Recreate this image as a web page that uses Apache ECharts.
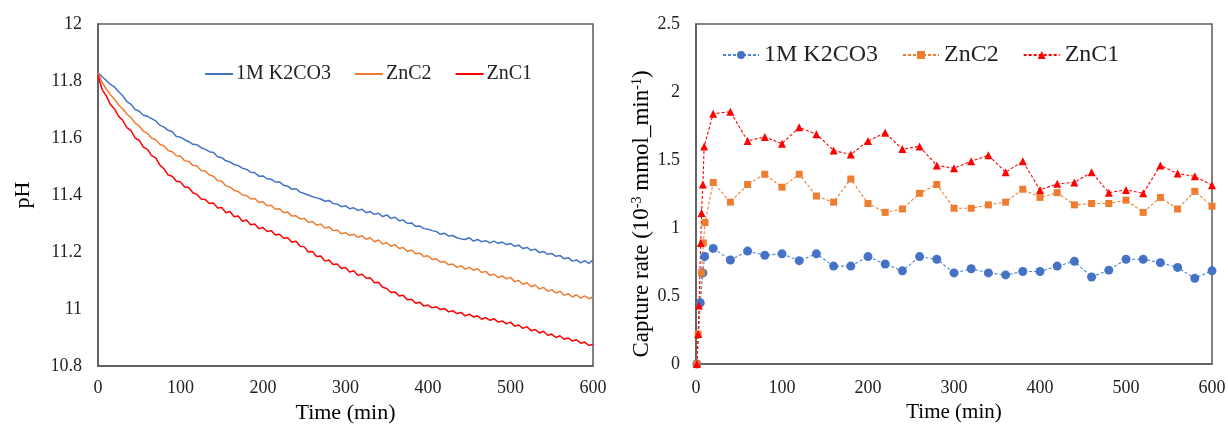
<!DOCTYPE html>
<html>
<head>
<meta charset="utf-8">
<script src="https://cdn.jsdelivr.net/npm/echarts@6/dist/echarts.min.js"></script>
<style>
  html, body { margin: 0; padding: 0; background: #fff; }
  #chart { width: 1228px; height: 425px; }
</style>
</head>
<body>
<div id="chart"></div>
<script>
// pH readings, one value every 5 min (0..600)
const phStep = 5;
const phK2CO3 = [
  11.830, 11.815, 11.802, 11.788, 11.779, 11.762, 11.748, 11.728, 11.718, 11.700,
  11.694, 11.680, 11.676, 11.668, 11.660, 11.645, 11.638, 11.627, 11.622, 11.605,
  11.603, 11.594, 11.587, 11.578, 11.576, 11.566, 11.560, 11.552, 11.549, 11.534,
  11.531, 11.520, 11.516, 11.507, 11.503, 11.494, 11.490, 11.480, 11.478, 11.466,
  11.467, 11.457, 11.455, 11.446, 11.446, 11.434, 11.431, 11.420, 11.422, 11.410,
  11.405, 11.400, 11.394, 11.390, 11.386, 11.378, 11.381, 11.370, 11.368, 11.359,
  11.362, 11.352, 11.355, 11.346, 11.350, 11.338, 11.342, 11.332, 11.336, 11.324,
  11.330, 11.318, 11.322, 11.310, 11.312, 11.300, 11.302, 11.290, 11.291, 11.282,
  11.280, 11.275, 11.272, 11.262, 11.266, 11.256, 11.258, 11.250, 11.246, 11.244,
  11.250, 11.238, 11.244, 11.236, 11.240, 11.232, 11.238, 11.230, 11.235, 11.226,
  11.230, 11.220, 11.224, 11.212, 11.216, 11.206, 11.210, 11.198, 11.202, 11.192,
  11.195, 11.185, 11.188, 11.176, 11.180, 11.168, 11.172, 11.162, 11.170, 11.160,
  11.172
];
const phZnC2 = [
  11.830, 11.795, 11.772, 11.752, 11.736, 11.716, 11.702, 11.684, 11.672, 11.652,
  11.642, 11.624, 11.616, 11.600, 11.594, 11.578, 11.572, 11.556, 11.552, 11.538,
  11.536, 11.520, 11.518, 11.504, 11.502, 11.486, 11.484, 11.470, 11.466, 11.450,
  11.448, 11.432, 11.428, 11.416, 11.412, 11.400, 11.398, 11.386, 11.388, 11.374,
  11.376, 11.362, 11.364, 11.350, 11.352, 11.338, 11.340, 11.326, 11.327, 11.316,
  11.318, 11.304, 11.307, 11.294, 11.298, 11.284, 11.288, 11.275, 11.277, 11.264,
  11.268, 11.258, 11.262, 11.252, 11.257, 11.245, 11.250, 11.236, 11.242, 11.228,
  11.233, 11.220, 11.226, 11.212, 11.216, 11.202, 11.207, 11.194, 11.196, 11.184,
  11.187, 11.174, 11.176, 11.164, 11.167, 11.155, 11.158, 11.146, 11.152, 11.140,
  11.146, 11.136, 11.141, 11.128, 11.132, 11.118, 11.122, 11.110, 11.116, 11.106,
  11.111, 11.096, 11.100, 11.086, 11.092, 11.078, 11.084, 11.070, 11.076, 11.062,
  11.068, 11.056, 11.062, 11.048, 11.054, 11.042, 11.050, 11.038, 11.046, 11.036,
  11.042
];
const phZnC1 = [
  11.820, 11.770, 11.748, 11.718, 11.702, 11.676, 11.662, 11.636, 11.626, 11.600,
  11.592, 11.568, 11.560, 11.538, 11.530, 11.505, 11.492, 11.470, 11.466, 11.448,
  11.446, 11.428, 11.426, 11.408, 11.402, 11.386, 11.384, 11.370, 11.372, 11.354,
  11.356, 11.338, 11.342, 11.324, 11.326, 11.308, 11.312, 11.296, 11.298, 11.282,
  11.286, 11.272, 11.275, 11.260, 11.262, 11.248, 11.250, 11.234, 11.238, 11.220,
  11.218, 11.200, 11.202, 11.184, 11.186, 11.168, 11.172, 11.156, 11.158, 11.142,
  11.146, 11.130, 11.134, 11.118, 11.122, 11.108, 11.110, 11.092, 11.094, 11.076,
  11.072, 11.058, 11.060, 11.046, 11.048, 11.032, 11.034, 11.020, 11.024, 11.010,
  11.014, 11.004, 11.008, 10.998, 11.002, 10.990, 10.994, 10.984, 10.988, 10.976,
  10.982, 10.972, 10.976, 10.964, 10.970, 10.960, 10.966, 10.954, 10.958, 10.948,
  10.954, 10.940, 10.944, 10.932, 10.938, 10.924, 10.928, 10.916, 10.922, 10.908,
  10.912, 10.900, 10.906, 10.894, 10.898, 10.888, 10.892, 10.880, 10.884, 10.872,
  10.876
];

// capture rate, [time (min), rate]
const rateK2CO3 = [
  [1, 0], [5, 0.45], [8, 0.67], [10, 0.79], [20, 0.85], [40, 0.765], [60, 0.83],
  [80, 0.80], [100, 0.81], [120, 0.76], [140, 0.81], [160, 0.72], [180, 0.72],
  [200, 0.79], [220, 0.735], [240, 0.685], [260, 0.79], [280, 0.77], [300, 0.67],
  [320, 0.70], [340, 0.67], [360, 0.655], [380, 0.68], [400, 0.68], [420, 0.72],
  [440, 0.755], [460, 0.64], [480, 0.69], [500, 0.77], [520, 0.77], [540, 0.745],
  [560, 0.71], [580, 0.63], [600, 0.685]
];
const rateZnC2 = [
  [1, 0], [2.5, 0.22], [6.5, 0.67], [8.5, 0.89], [10.5, 1.04], [20, 1.335],
  [40, 1.19], [60, 1.32], [80, 1.395], [100, 1.30], [120, 1.395], [140, 1.235],
  [160, 1.19], [180, 1.36], [200, 1.18], [220, 1.115], [240, 1.14], [260, 1.255],
  [280, 1.32], [300, 1.145], [320, 1.145], [340, 1.17], [360, 1.19], [380, 1.285],
  [400, 1.225], [420, 1.26], [440, 1.17], [460, 1.18], [480, 1.18], [500, 1.205],
  [520, 1.115], [540, 1.225], [560, 1.14], [580, 1.27], [600, 1.16]
];
const rateZnC1 = [
  [1, 0], [2.5, 0.22], [3.5, 0.43], [5.5, 0.89], [6.5, 1.11], [8, 1.32],
  [9.5, 1.60], [20, 1.84], [40, 1.855], [60, 1.64], [80, 1.67], [100, 1.62],
  [120, 1.74], [140, 1.69], [160, 1.57], [180, 1.54], [200, 1.64], [220, 1.70],
  [240, 1.58], [260, 1.60], [280, 1.46], [300, 1.44], [320, 1.49], [340, 1.535],
  [360, 1.41], [380, 1.49], [400, 1.28], [420, 1.325], [440, 1.335], [460, 1.41],
  [480, 1.26], [500, 1.28], [520, 1.255], [540, 1.46], [560, 1.40], [580, 1.38],
  [600, 1.315]
];

const names = ['1M K2CO3', 'ZnC2', 'ZnC1'];
const colors = ['#4472C4', '#ED7D31', '#FF0000'];

const withTime = arr => arr.map((v, i) => [i * phStep, v]);

const font = 'Liberation Serif';
const axisColor = '#595959';

const xAxisBase = {
  type: 'value', min: 0, max: 600, interval: 100,
  name: 'Time (min)', nameLocation: 'middle',
  axisLine: { lineStyle: { color: axisColor, width: 1.5 } },
  axisTick: { show: false },
  splitLine: { show: false }
};
const yAxisBase = {
  type: 'value',
  nameLocation: 'middle',
  axisLine: { show: true, lineStyle: { color: axisColor, width: 1.5 } },
  axisTick: { show: false },
  splitLine: { show: false },
  axisLabel: { fontFamily: font, fontSize: 18, color: '#222', margin: 16 }
};

const chart = echarts.init(document.getElementById('chart'));
chart.setOption({
  backgroundColor: '#fff',
  animation: false,
  grid: [
    { left: 98, right: 635, top: 24, bottom: 59, outerBoundsMode: 'none',
      show: true, borderColor: axisColor, borderWidth: 1.5 },
    { left: 696, right: 16, top: 24, bottom: 61, outerBoundsMode: 'none',
      show: true, borderColor: axisColor, borderWidth: 1.5 }
  ],
  legend: [
    {
      data: names.slice(), left: 205, top: 64, padding: 0,
      itemWidth: 28, itemHeight: 2, itemGap: 24, icon: 'rect',
      textStyle: { fontFamily: font, fontSize: 20, color: '#222', padding: [0, 0, 0, -2] },
      selectedMode: false
    },
    {
      data: names.map(n => n + ' '), left: 722, top: 43, padding: 0,
      itemWidth: 36, itemHeight: 10, itemGap: 18,
      textStyle: { fontFamily: font, fontSize: 24, color: '#222' },
      selectedMode: false
    }
  ],
  xAxis: [
    Object.assign({}, xAxisBase, {
      gridIndex: 0, nameGap: 29,
      nameTextStyle: { fontFamily: font, fontSize: 22, color: '#000' },
      axisLabel: { fontFamily: font, fontSize: 18, color: '#222', margin: 13 }
    }),
    Object.assign({}, xAxisBase, {
      gridIndex: 1, nameGap: 31,
      nameTextStyle: { fontFamily: font, fontSize: 21, color: '#000' },
      axisLabel: { fontFamily: font, fontSize: 18, color: '#222', margin: 15 }
    })
  ],
  yAxis: [
    Object.assign({}, yAxisBase, {
      gridIndex: 0, min: 10.8, max: 12, interval: 0.2,
      name: 'pH', nameGap: 64,
      nameTextStyle: { fontFamily: font, fontSize: 22, color: '#000' }
    }),
    Object.assign({}, yAxisBase, {
      gridIndex: 1, min: 0, max: 2.5, interval: 0.5,
      name: '{t|Capture rate (10}{s|-3}{t| mmol_min}{s|-1}{t|)}', nameGap: 41,
      nameTextStyle: {
        padding: [0, 40, 0, 0],
        rich: {
          t: { fontFamily: font, fontSize: 23, color: '#000' },
          s: { fontFamily: font, fontSize: 14, color: '#000', padding: [0, 0, 10, 0] }
        }
      }
    })
  ],
  series: [
    ...[phK2CO3, phZnC2, phZnC1].map((d, i) => ({
      name: names[i], type: 'line', xAxisIndex: 0, yAxisIndex: 0,
      data: withTime(d), showSymbol: false, symbol: 'none',
      itemStyle: { color: colors[i] },
      lineStyle: { color: colors[i], width: 1.5 }
    })),
    ...[rateK2CO3, rateZnC2, rateZnC1].map((d, i) => ({
      name: names[i] + ' ', type: 'line', xAxisIndex: 1, yAxisIndex: 1,
      data: d,
      symbol: ['circle', 'rect', 'triangle'][i],
      symbolSize: [9, 7, 8][i],
      itemStyle: { color: colors[i] },
      lineStyle: { color: i === 0 ? '#4a86d6' : colors[i], width: 1.1, type: [3, 2] }
    }))
  ]
});
</script>
</body>
</html>
